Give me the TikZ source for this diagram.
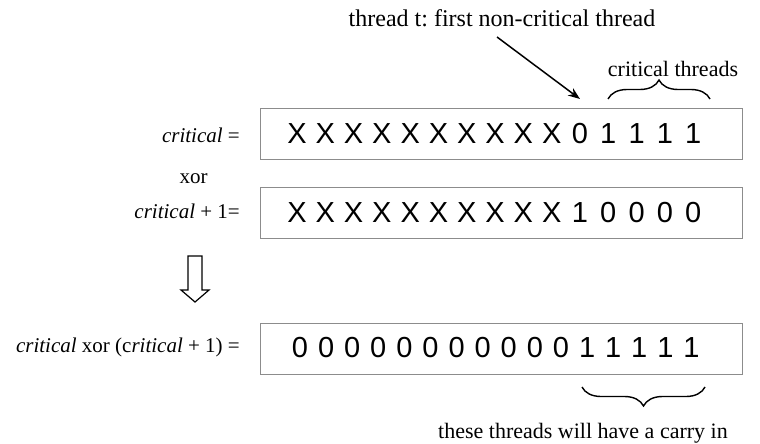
\documentclass[tikz,border=0pt]{standalone}
\usepackage{fontspec}
\setmainfont{Liberation Serif}
\newfontfamily\bitfont{Liberation Sans}
\usetikzlibrary{arrows.meta,decorations.pathreplacing}
\frenchspacing

\begin{document}
\begin{tikzpicture}[x=1pt,y=-1pt,
  regbox/.style={draw=black!45, line width=1pt, minimum width=482pt, minimum height=51pt, anchor=north west, inner sep=0pt},
  bit/.style={anchor=base, inner sep=0pt, font=\bitfont\fontsize{29}{30}\selectfont},
  lbl/.style={inner sep=0pt, font=\fontsize{21}{25}\selectfont},
  note/.style={inner sep=0pt, font=\fontsize{22}{26}\selectfont},
  bracket/.style={decorate, decoration={brace, amplitude=19pt}, line width=1.4pt},
]
\useasboundingbox (0,0) rectangle (760,444);

% registers
\node[regbox] (r1) at (260,108) {};
\node[regbox] (r2) at (260,187) {};
\node[regbox] (r3) at (260,323) {};

% bit patterns
\foreach \c [count=\i from 0] in {X,X,X,X,X,X,X,X,X,X,0,1,1,1,1}
  \node[bit] (a\i) at (297+28.3*\i,143.3) {\c};
\foreach \c [count=\i from 0] in {X,X,X,X,X,X,X,X,X,X,1,0,0,0,0}
  \node[bit] (b\i) at (297+28.3*\i,222.3) {\c};
\foreach \c [count=\i from 0] in {0,0,0,0,0,0,0,0,0,0,0,1,1,1,1,1}
  \node[bit] (c\i) at (300+26.1*\i,357.8) {\c};

% left labels
\node[lbl, anchor=base east] (l1) at (240,142) {\textit{critical} =};
\node[lbl, anchor=base] (lx) at (193.5,183) {xor};
\node[lbl, anchor=base east] (l2) at (240,218) {\textit{critical} + 1=};
\node[lbl, anchor=base east] (l3) at (240,352) {\textit{critical} xor (c\textit{ritical} + 1) =};

% annotations
\node[note, anchor=base, font=\fontsize{24}{28}\selectfont] (n1) at (502,27) {thread t: first non-critical thread};
\node[note, anchor=base] (n2) at (673,77) {critical threads};
\node[note, anchor=base] (n3) at (583,438) {these threads will have a carry in};

\coordinate (atail) at (497,37);
\coordinate (ahead) at (580,99);
\draw[line width=1.5pt, -{Stealth[length=12pt,width=9pt]}] (atail) -- (ahead);

\draw[bracket] (608,99) -- (710,99);
\draw[bracket] (705,387) -- (582,387);

% implication arrow
\draw[line width=1.2pt, line join=miter]
  (188,256) -- (202,256) -- (202,290) -- (209,290) -- (195,302)
  -- (181,290) -- (188,290) -- cycle;
\end{tikzpicture}
\end{document}
